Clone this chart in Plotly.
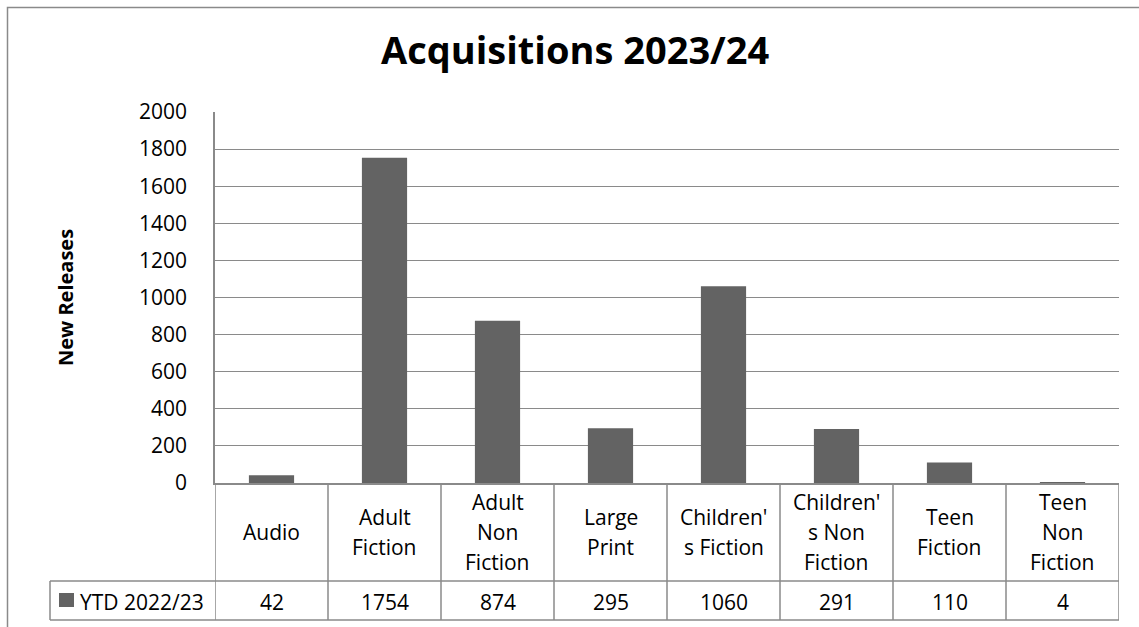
import plotly.graph_objects as go

# Acquisitions by category (YTD 2022/23)
categories = ["Audio", "Adult Fiction", "Adult Non Fiction", "Large Print",
              "Children's Fiction", "Children's Non Fiction", "Teen Fiction",
              "Teen Non Fiction"]
table_labels = [["Audio"], ["Adult", "Fiction"], ["Adult", "Non", "Fiction"],
                ["Large", "Print"], ["Children'", "s Fiction"],
                ["Children'", "s Non", "Fiction"], ["Teen", "Fiction"],
                ["Teen", "Non", "Fiction"]]
series_name = "YTD 2022/23"
values = [42, 1754, 874, 295, 1060, 291, 110, 4]
y_ticks = list(range(0, 2001, 200))

W, H = 1139, 627
FONT = "Open Sans"
TXT = 21
BAR = "#636363"
LINE = "#8a8a8a"


def px(x):
    return x / W


def py(y):
    return 1 - y / H


# plot area in pixels
X0, X1 = 215, 1119
Y_TOP, Y_ZERO = 112, 483
ROW1_BOTTOM, ROW2_BOTTOM = 581, 620
LEG_LEFT = 50

fig = go.Figure()
fig.add_bar(x=categories, y=values, marker_color=BAR, marker_line_width=0,
            showlegend=False, hoverinfo="x+y")

fig.update_layout(
    template="none",
    width=W, height=H, autosize=False,
    margin=dict(l=0, r=0, t=0, b=0, pad=0, autoexpand=False),
    paper_bgcolor="white", plot_bgcolor="white",
    bargap=0.6, showlegend=False,
    font=dict(family=FONT, color="#000000", size=TXT),
    xaxis=dict(domain=[px(X0), px(X1)], type="category",
               range=[-0.5, len(categories) - 0.5], automargin=False,
               showticklabels=False, ticks="", showgrid=False,
               showline=True, linecolor=LINE, linewidth=1.5, zeroline=False),
    yaxis=dict(domain=[py(Y_ZERO), py(Y_TOP)], range=[0, 2000], automargin=False,
               tickvals=y_ticks, ticktext=[str(v) for v in y_ticks],
               showgrid=True, gridcolor=LINE, gridwidth=1.2,
               showline=True, linecolor=LINE, linewidth=1.5, zeroline=False,
               ticks="outside", ticklen=22, tickcolor="rgba(0,0,0,0)",
               tickfont=dict(family=FONT, size=TXT, color="#000000")),
)

shapes = []
# outer chart border
shapes.append(dict(type="rect", xref="paper", yref="paper",
                   x0=px(7.5), x1=1.05, y0=-0.05, y1=py(7.5),
                   line=dict(color=LINE, width=1.5), fillcolor="rgba(0,0,0,0)",
                   layer="below"))
# data table: column separators aligned with categories
for i in range(len(categories) + 1):
    shapes.append(dict(type="line", xref="x", yref="paper",
                       x0=i - 0.5, x1=i - 0.5, y0=py(Y_ZERO), y1=py(ROW2_BOTTOM),
                       line=dict(color=LINE, width=1.5)))
# horizontal rules of the value row (including legend key cell)
for yy in (ROW1_BOTTOM, ROW2_BOTTOM):
    shapes.append(dict(type="line", xref="paper", yref="paper",
                       x0=px(LEG_LEFT), x1=px(X1), y0=py(yy), y1=py(yy),
                       line=dict(color=LINE, width=1.5)))
shapes.append(dict(type="line", xref="paper", yref="paper",
                   x0=px(LEG_LEFT), x1=px(LEG_LEFT),
                   y0=py(ROW1_BOTTOM), y1=py(ROW2_BOTTOM),
                   line=dict(color=LINE, width=1.5)))
# legend key square
shapes.append(dict(type="rect", xref="paper", yref="paper",
                   x0=px(59), x1=px(74), y0=py(607), y1=py(593),
                   fillcolor=BAR, line=dict(width=0)))
fig.update_layout(shapes=shapes)

annotations = []
# title
annotations.append(dict(text="<b>Acquisitions 2023/24</b>", xref="paper", yref="paper",
                        x=px(575), y=py(49), xanchor="center", yanchor="middle",
                        showarrow=False, font=dict(family=FONT, size=38, color="#000000")))
# y axis title
annotations.append(dict(text="<b>New Releases</b>", xref="paper", yref="paper",
                        x=px(65), y=py(298), xanchor="center", yanchor="middle",
                        textangle=-90, showarrow=False,
                        font=dict(family=FONT, size=20, color="#000000")))
# category row of the table
row1_mid = (Y_ZERO + ROW1_BOTTOM) / 2
line_step = 30
for cat, lines in zip(categories, table_labels):
    n = len(lines)
    for j, ln in enumerate(lines):
        yy = row1_mid + (j - (n - 1) / 2) * line_step
        annotations.append(dict(text=ln, xref="x", yref="paper", x=cat, y=py(yy),
                                xanchor="center", yanchor="middle", showarrow=False,
                                font=dict(family=FONT, size=TXT, color="#000000")))
# value row of the table
row2_mid = (ROW1_BOTTOM + ROW2_BOTTOM) / 2 + 1
for cat, v in zip(categories, values):
    annotations.append(dict(text=str(v), xref="x", yref="paper", x=cat, y=py(row2_mid),
                            xanchor="center", yanchor="middle", showarrow=False,
                            font=dict(family=FONT, size=TXT, color="#000000")))
# legend key label
annotations.append(dict(text=series_name, xref="paper", yref="paper",
                        x=px(78), y=py(row2_mid), xanchor="left", yanchor="middle",
                        showarrow=False, font=dict(family=FONT, size=TXT, color="#000000")))
fig.update_layout(annotations=annotations)

fig.write_html("out.html")
